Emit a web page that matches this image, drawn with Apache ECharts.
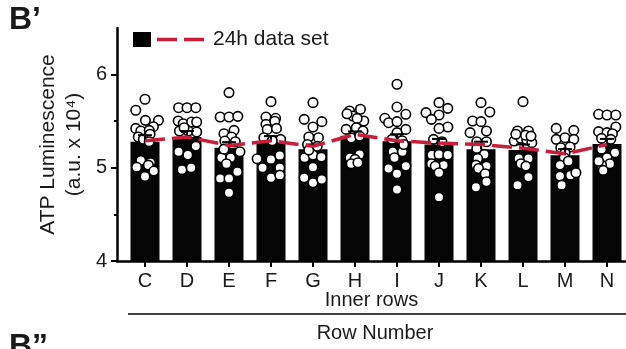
<!DOCTYPE html>
<html>
<head>
<meta charset="utf-8">
<script src="https://cdn.jsdelivr.net/npm/echarts@6/dist/echarts.min.js"></script>
<style>
  html, body { margin: 0; padding: 0; background: #fff; }
  #echart1 { width: 626px; height: 349px; }
</style>
</head>
<body>
<div id="echart1"></div>
<script>
// ====================数据====================
var rows = ['C', 'D', 'E', 'F', 'G', 'H', 'I', 'J', 'K', 'L', 'M', 'N'];
var yTicks = [4, 5, 6];
var yMinorTicks = [4.5, 5.5];
// 柱高 (a.u. x 10^4)
var barMeans = [5.28, 5.33, 5.215, 5.28, 5.20, 5.345, 5.285, 5.25, 5.20, 5.19, 5.135, 5.255];
// 误差线 (上半部分)
var barErr = [0.07, 0.065, 0.06, 0.06, 0.05, 0.045, 0.075, 0.06, 0.08, 0.06, 0.065, 0.055];
// 24h data set
var line24h = [5.29, 5.33, 5.24, 5.29, 5.23, 5.36, 5.29, 5.265, 5.25, 5.21, 5.15, 5.25];
// 每行的散点: [jitter (category units), value]
var dotsC = [[0, 5.735], [-0.22, 5.617], [0.01, 5.509], [0.32, 5.509], [-0.22, 5.423], [0.2, 5.441], [-0.1, 5.395], [0.1, 5.402], [-0.16, 5.33], [0.12, 5.36], [-0.04, 5.305], [0.1, 5.28], [-0.1, 5.079], [0.13, 5.054], [-0.2, 5.007], [0.08, 5.029], [0.21, 4.965], [0, 4.907]];
var dotsD = [[-0.2, 5.645], [0, 5.645], [0.21, 5.645], [-0.21, 5.502], [-0.09, 5.473], [0.11, 5.491], [0.23, 5.491], [-0.18, 5.395], [0.03, 5.395], [0.23, 5.384], [-0.07, 5.43], [0.21, 5.233], [-0.2, 5.172], [0.02, 5.137], [-0.12, 4.98], [0.1, 5.0]];
var dotsE = [[0, 5.807], [-0.21, 5.545], [0, 5.545], [0.21, 5.552], [0.12, 5.402], [-0.12, 5.366], [0.06, 5.33], [-0.1, 5.287], [0.15, 5.28], [0.26, 5.172], [-0.18, 5.108], [0.04, 5.108], [-0.06, 5.043], [0.2, 4.957], [-0.21, 4.886], [0, 4.886], [0, 4.732], [-0.12, 5.2]];
var dotsF = [[0, 5.71], [-0.12, 5.545], [0.11, 5.531], [-0.12, 5.466], [0.09, 5.5], [-0.09, 5.412], [0.13, 5.423], [-0.17, 5.323], [0.23, 5.305], [0.03, 5.29], [-0.33, 5.097], [0, 5.09], [0.21, 5.133], [-0.2, 5.0], [0.21, 5.0], [0, 4.893], [0.21, 4.921]];
var dotsG = [[0, 5.699], [-0.21, 5.52], [0.21, 5.495], [0, 5.438], [-0.1, 5.33], [0.13, 5.323], [-0.13, 5.25], [0.1, 5.23], [-0.2, 5.108], [0, 5.137], [0.2, 5.115], [0, 5.007], [-0.21, 4.893], [0, 4.839], [0.21, 4.875], [-0.1, 5.19]];
var dotsH = [[-0.13, 5.61], [0.13, 5.628], [-0.05, 5.556], [-0.19, 5.58], [0.21, 5.502], [0.05, 5.53], [-0.21, 5.412], [0.03, 5.43], [0.19, 5.395], [-0.09, 5.32], [0.11, 5.34], [-0.12, 5.108], [0.11, 5.144], [0, 5.09], [-0.09, 5.043], [0.07, 5.054]];
var dotsI = [[0, 5.896], [0, 5.653], [0.21, 5.574], [-0.29, 5.531], [-0.2, 5.484], [0, 5.495], [0.21, 5.412], [0, 5.377], [-0.12, 5.305], [0.12, 5.29], [-0.1, 5.172], [0.13, 5.172], [-0.06, 5.108], [0.21, 5.018], [-0.2, 4.993], [0, 4.936], [0, 4.767], [0.16, 5.25]];
var dotsJ = [[0, 5.699], [-0.31, 5.592], [0.21, 5.638], [0, 5.567], [-0.18, 5.52], [0.21, 5.438], [0, 5.423], [-0.13, 5.305], [0.07, 5.28], [-0.17, 5.137], [0, 5.144], [0.21, 5.137], [-0.18, 5.043], [0.11, 5.029], [-0.09, 5.018], [0, 4.947], [0, 4.685]];
var dotsK = [[0, 5.699], [0.21, 5.599], [-0.2, 5.502], [0, 5.495], [-0.26, 5.377], [0.13, 5.395], [-0.1, 5.28], [0.13, 5.28], [-0.1, 5.208], [0.08, 5.144], [-0.08, 5.1], [-0.12, 5.029], [0.13, 5.018], [-0.06, 4.993], [0.1, 4.936], [0.13, 4.85], [-0.12, 4.792]];
var dotsL = [[0, 5.71], [-0.13, 5.395], [0.13, 5.395], [-0.21, 5.287], [-0.05, 5.316], [0.09, 5.3], [0.21, 5.27], [0.06, 5.35], [-0.1, 5.1], [0.13, 5.1], [-0.05, 5.043], [0.07, 5.018], [0.13, 4.9], [-0.13, 4.814], [-0.17, 5.36], [0.19, 5.34]];
var dotsM = [[-0.21, 5.423], [0.21, 5.402], [-0.21, 5.305], [0, 5.323], [0.21, 5.305], [-0.1, 5.215], [0.12, 5.223], [0, 5.16], [-0.02, 5.108], [-0.12, 5.029], [0.08, 5.07], [-0.12, 4.911], [0.13, 4.921], [0.26, 4.947], [-0.08, 4.814]];
var dotsN = [[-0.2, 5.574], [0, 5.567], [0.21, 5.567], [0.21, 5.438], [-0.2, 5.388], [0, 5.377], [0.13, 5.366], [-0.13, 5.316], [0.09, 5.305], [-0.13, 5.2], [0.19, 5.162], [0, 5.108], [0.07, 5.043], [-0.13, 5.029], [-0.09, 4.972], [-0.2, 5.07]];
var allDots = [dotsC, dotsD, dotsE, dotsF, dotsG, dotsH, dotsI, dotsJ, dotsK, dotsL, dotsM, dotsN];

// ====================组装数据====================
var barData = [], lineData = [], errData = [], dotData = [];
for (var i = 0; i < rows.length; i++) {
    barData.push([i, barMeans[i]]);
    lineData.push([i, line24h[i]]);
    errData.push([i, barMeans[i], barErr[i]]);
    for (var j = 0; j < allDots[i].length; j++) {
        dotData.push([i + allDots[i][j][0], allDots[i][j][1]]);
    }
}
var rowIdx = rows.map(function (r, k) { return k; });
var redColor = '#c81d3b';
var txtFont = 'Liberation Sans, Arial, sans-serif';

/*====================echart====================*/
var myChart1 = echarts.init(document.getElementById('echart1'), null, { renderer: 'canvas' });
var option1 = {
    animation: false,
    backgroundColor: '#fff',
    textStyle: { fontFamily: txtFont },
    grid: {
        left: 117,
        right: 0,
        top: 28,
        bottom: 88
    },
    xAxis: {
        type: 'value',
        min: -0.6667,
        max: 11.4524,
        name: 'Inner rows',
        nameLocation: 'middle',
        nameGap: 29,
        nameMoveOverlap: false,
        nameTextStyle: { fontSize: 20, color: '#1a1a1a', fontFamily: txtFont },
        splitLine: { show: false },
        axisLine: { onZero: false, lineStyle: { color: '#000', width: 2.5 } },
        axisTick: { customValues: rowIdx, length: 6, lineStyle: { color: '#000', width: 2 } },
        axisLabel: {
            customValues: rowIdx,
            margin: 10,
            fontSize: 20,
            color: '#1a1a1a',
            fontFamily: txtFont,
            formatter: function (v) { return rows[Math.round(v)]; }
        }
    },
    yAxis: [{
        type: 'value',
        min: 4,
        max: 6.5,
        name: 'ATP Luminescence\n(a.u. x 10\u2074)',
        nameLocation: 'middle',
        nameGap: 30,
        nameMoveOverlap: false,
        nameTextStyle: { fontSize: 21, lineHeight: 26, color: '#1a1a1a', fontFamily: txtFont },
        splitLine: { show: false },
        axisLine: { show: true, onZero: false, lineStyle: { color: '#000', width: 2.5 } },
        axisTick: { customValues: yTicks, length: 6, lineStyle: { color: '#000', width: 2 } },
        axisLabel: { customValues: yTicks, margin: 10, fontSize: 20, color: '#1a1a1a', fontFamily: txtFont }
    }, {
        // 次刻度 4.5 / 5.5
        type: 'value',
        position: 'left',
        min: 4,
        max: 6.5,
        splitLine: { show: false },
        axisLine: { show: false, onZero: false },
        axisTick: { customValues: yMinorTicks, length: 3, lineStyle: { color: '#000', width: 2 } },
        axisLabel: { show: false }
    }],
    series: [{
        name: 'mean',
        type: 'bar',
        barWidth: 29,
        itemStyle: { color: '#050505' },
        data: barData,
        z: 1
    }, {
        name: 'dots',
        type: 'scatter',
        symbol: 'circle',
        symbolSize: 9.5,
        itemStyle: { color: '#fff', borderColor: '#000', borderWidth: 1.6, opacity: 1 },
        data: dotData,
        z: 3
    }, {
        name: 'err',
        type: 'custom',
        renderItem: function (params, api) {
            var x = api.value(0);
            var top = api.value(1);
            var p0 = api.coord([x, top]);
            var p1 = api.coord([x, top + api.value(2)]);
            return {
                type: 'group',
                children: [{
                    type: 'line',
                    shape: { x1: p0[0], y1: p0[1], x2: p1[0], y2: p1[1] },
                    style: { stroke: '#000', lineWidth: 2 }
                }, {
                    type: 'line',
                    shape: { x1: p1[0] - 7, y1: p1[1], x2: p1[0] + 7, y2: p1[1] },
                    style: { stroke: '#000', lineWidth: 2 }
                }]
            };
        },
        data: errData,
        z: 4
    }, {
        name: '24h data set',
        type: 'line',
        showSymbol: false,
        lineStyle: { color: redColor, width: 3.5, type: [20, 7] },
        data: lineData,
        z: 5
    }],
    graphic: [
        { type: 'text', left: 9, top: 4, style: { text: 'B\u2019', font: 'bold 32px ' + txtFont, fill: '#1a1a1a' } },
        { type: 'text', left: 9, top: 331, style: { text: 'B\u201d', font: 'bold 32px ' + txtFont, fill: '#1a1a1a' } },
        // 图例
        { type: 'rect', shape: { x: 133, y: 32, width: 18, height: 15 }, style: { fill: '#000' } },
        { type: 'line', shape: { x1: 157, y1: 39.5, x2: 205, y2: 39.5 }, style: { stroke: redColor, lineWidth: 3.5, lineDash: [20, 7] } },
        { type: 'text', x: 213, y: 39.5, style: { text: '24h data set', font: '21px ' + txtFont, fill: '#1a1a1a', verticalAlign: 'middle' } },
        // Row Number
        { type: 'line', shape: { x1: 128, y1: 314, x2: 626, y2: 314 }, style: { stroke: '#000', lineWidth: 1.5 } },
        { type: 'text', x: 375, y: 333, style: { text: 'Row Number', font: '20px ' + txtFont, fill: '#1a1a1a', align: 'center', verticalAlign: 'middle' } }
    ]
};

// ====================调用echarts========================//
myChart1.setOption(option1);
</script>
</body>
</html>
